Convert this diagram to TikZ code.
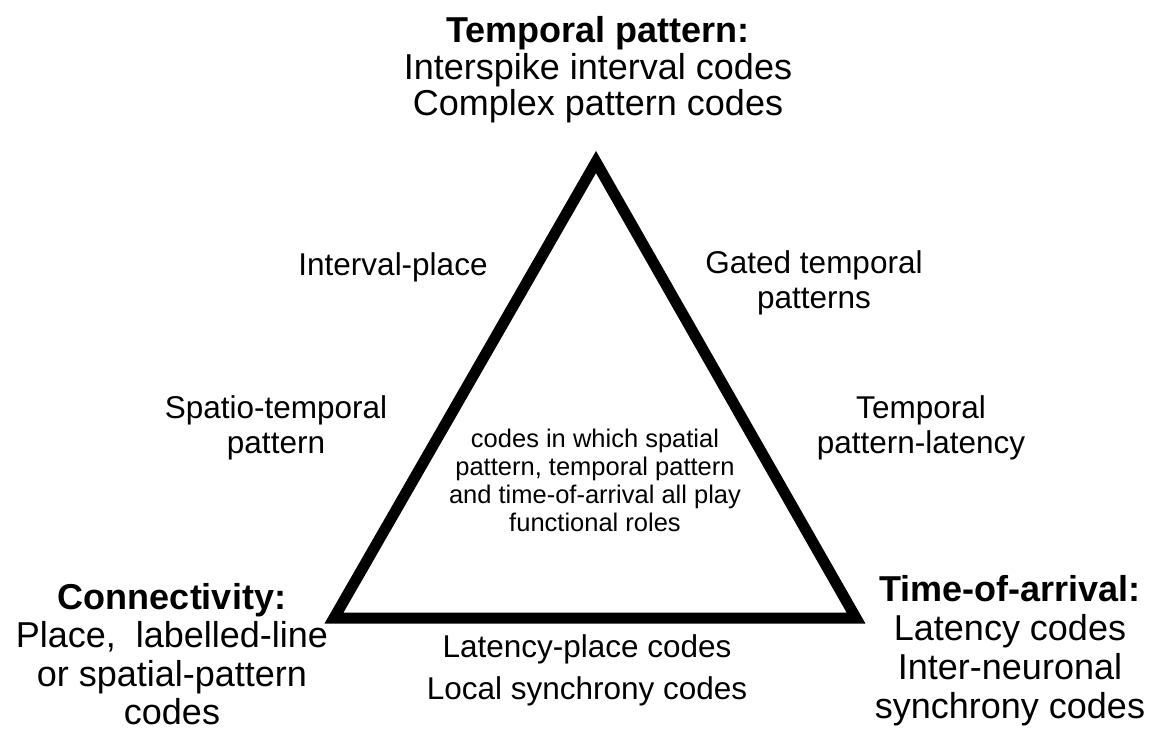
\documentclass[tikz,border=0pt]{standalone}
\usepackage{fontspec}
\setmainfont{Liberation Sans}
\begin{document}
\begin{tikzpicture}[x=1pt,y=-1pt,
  cornertext/.style={font=\fontsize{36}{39}\selectfont, align=center, inner sep=0pt},
  sidetext/.style={font=\fontsize{31.5}{34.5}\selectfont, align=center, inner sep=0pt},
  innertext/.style={font=\fontsize{25.5}{28}\selectfont, align=center, inner sep=0pt},
  tri/.style={line width=11pt, line join=miter}]
\useasboundingbox (0,0) rectangle (1154,732);
\coordinate (T) at (596,162);
\coordinate (L) at (334,618);
\coordinate (R) at (856,618);
\draw[tri] (T) -- (L) -- (R) -- cycle;

\node[cornertext, font=\fontsize{36}{36.5}\selectfont] (top) at (598,70) {\textbf{Temporal pattern:}\\Interspike interval codes\\Complex pattern codes};
\node[cornertext, font=\fontsize{36}{38.5}\selectfont] (conn) at (172,654) {\textbf{Connectivity:}\\Place,~ labelled-line\\or spatial-pattern\\codes};
\node[cornertext] (toa) at (1010,651) {\textbf{Time-of-arrival:}\\Latency codes\\Inter-neuronal\\synchrony codes};

\node[sidetext] (ip) at (393,267) {Interval-place};
\node[sidetext] (gtp) at (814,283) {Gated temporal\\patterns};
\node[sidetext] (stp) at (276,428) {Spatio-temporal\\pattern};
\node[sidetext] (tpl) at (921,428) {Temporal\\pattern-latency};
\node[sidetext, font=\fontsize{31.5}{42}\selectfont] (lpc) at (587,670) {Latency-place codes\\Local synchrony codes};

\node[innertext] (mid) at (595,480) {codes in which spatial\\pattern, temporal pattern\\and time-of-arrival all play\\functional roles};
\end{tikzpicture}
\end{document}
